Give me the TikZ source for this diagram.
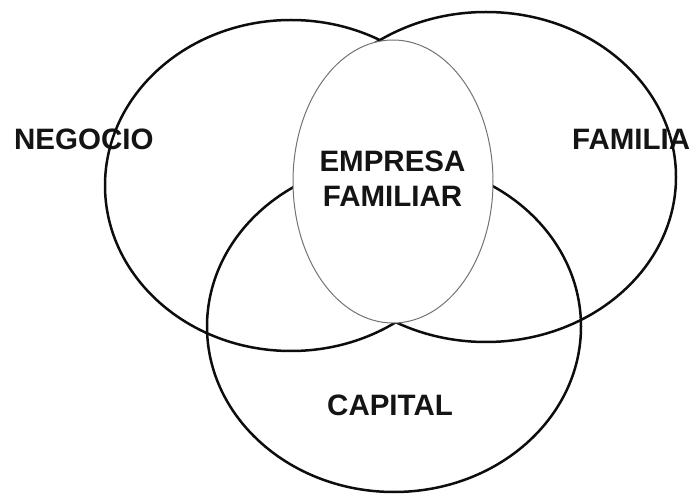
\documentclass[tikz,border=0pt]{standalone}
\usepackage{fontspec}
\setmainfont{Liberation Sans}
\begin{document}
\begin{tikzpicture}[x=1pt,y=-1pt,
  ring/.style={draw=black!95, line width=2.5pt},
  core/.style={draw=black!55, line width=1pt, fill=white},
  lbl/.style={font=\fontsize{29.5}{35}\selectfont\bfseries, text=black!92, inner sep=0pt}]
\useasboundingbox (0,0) rectangle (694,494);
% labels outside the central ellipse
\node[lbl, anchor=base west] (neg) at (14,150) {NEGOCIO};
\node[lbl, anchor=base west] (fam) at (572,150) {FAMILIA};
\node[lbl, anchor=base west] (cap) at (327,416) {CAPITAL};
% three main ellipses
\draw[ring] (291,185.5) ellipse [x radius=186pt, y radius=165.5pt];
\draw[ring] (486,177) ellipse [x radius=190pt, y radius=165pt];
\draw[ring] (394,326.6) ellipse [x radius=187pt, y radius=165.4pt];
% central ellipse, filled white
\draw[core] (393,181.5) ellipse [x radius=100pt, y radius=141.5pt];
\node[lbl, anchor=base] (emp1) at (392.5,172) {EMPRESA};
\node[lbl, anchor=base] (emp2) at (392.5,207) {FAMILIAR};
\end{tikzpicture}
\end{document}
